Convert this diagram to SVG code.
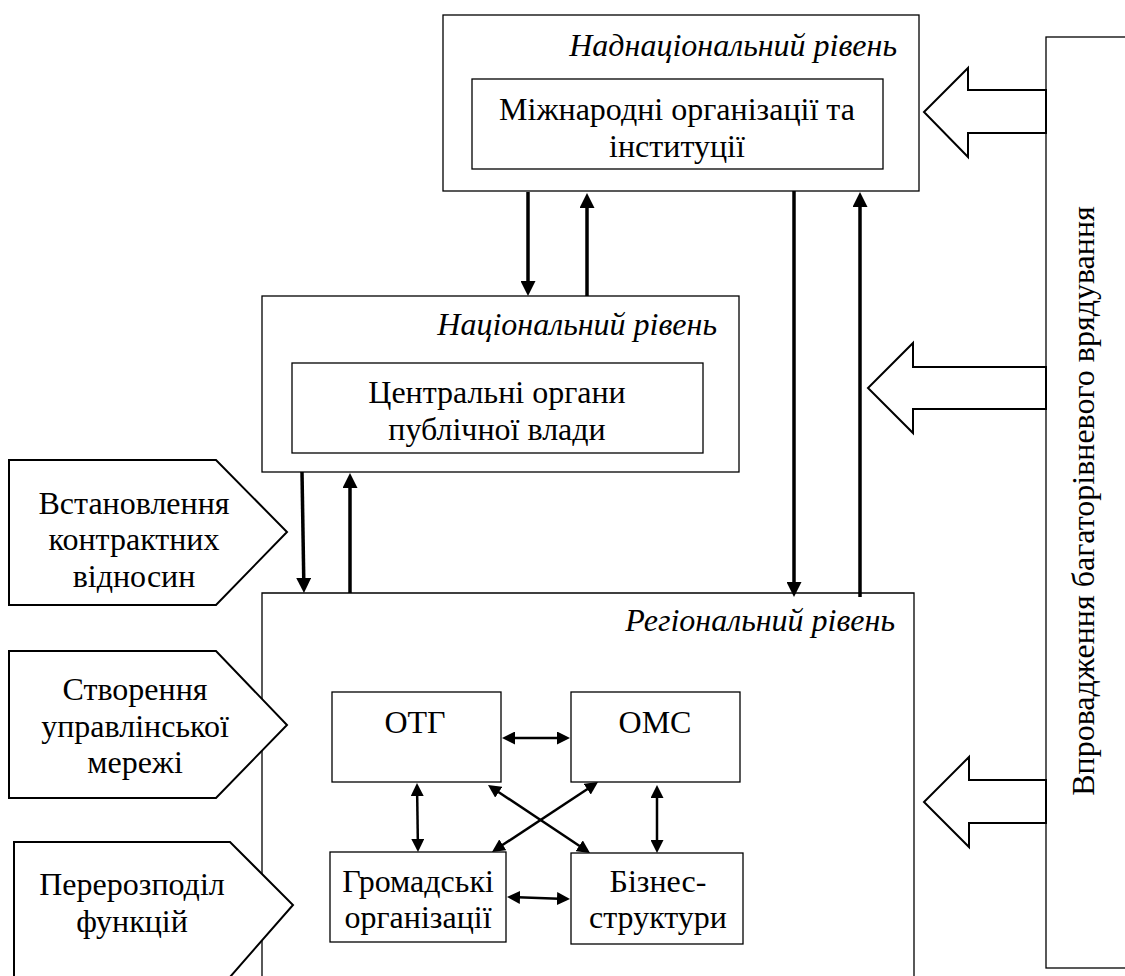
<svg xmlns="http://www.w3.org/2000/svg" width="1125" height="976" viewBox="0 0 1125 976">
<style>
.box{fill:#fff;stroke:#000;stroke-width:1.3}
.blk{fill:#fff;stroke:#000;stroke-width:2;stroke-linejoin:miter}
.t{font-size:32px;fill:#000;text-anchor:middle}
.ti{font-size:32px;font-style:italic;fill:#000;text-anchor:end}
.thick{stroke:#000;stroke-width:3.5;fill:none}
.thin{stroke:#000;stroke-width:2.5;fill:none}
</style>
<defs>
<marker id="ah" viewBox="0 0 15 15" refX="10" refY="7.5" markerWidth="15" markerHeight="15" markerUnits="userSpaceOnUse" orient="auto-start-reverse">
<path d="M0,0 L15,7.5 L0,15 z" fill="#000"/>
</marker>
<marker id="as" viewBox="0 0 13 13" refX="9" refY="6.5" markerWidth="13" markerHeight="13" markerUnits="userSpaceOnUse" orient="auto-start-reverse">
<path d="M0,0 L13,6.5 L0,13 z" fill="#000"/>
</marker>
</defs>
<rect width="1125" height="976" fill="#fff"/>
<g font-family="Liberation Serif, Times New Roman, Times, DejaVu Serif, serif">

<g id="supranational">
<rect class="box" x="443" y="15" width="476" height="176"/>
<text class="ti" x="897" y="56">Наднаціональний рівень</text>
<rect class="box" x="472" y="79" width="411" height="90"/>
<text class="t" x="677" y="120">Міжнародні організації та</text>
<text class="t" x="677" y="157">інституції</text>
</g>

<g id="national">
<rect class="box" x="262" y="296" width="477" height="176"/>
<text class="ti" x="717" y="335">Національний рівень</text>
<rect class="box" x="292" y="363" width="411" height="90"/>
<text class="t" x="497" y="403">Центральні органи</text>
<text class="t" x="497" y="440">публічної влади</text>
</g>

<g id="regional">
<path class="box" d="M262,985 V593 H914 V985"/>
<text class="ti" x="895" y="631">Регіональний рівень</text>
</g>

<g id="otg">
<rect class="box" x="332" y="692" width="169" height="90"/>
<text class="t" x="415" y="733">ОТГ</text>
</g>
<g id="omc">
<rect class="box" x="571" y="692" width="169" height="90"/>
<text class="t" x="655" y="733">ОМС</text>
</g>
<g id="hromadski">
<rect class="box" x="330" y="852" width="176" height="90"/>
<text class="t" x="418" y="892">Громадські</text>
<text class="t" x="418" y="928">організації</text>
</g>
<g id="biznes">
<rect class="box" x="571" y="853" width="172" height="91"/>
<text class="t" x="658" y="892">Бізнес-</text>
<text class="t" x="658" y="928">структури</text>
</g>

<g id="contract">
<polygon class="blk" points="9,460 216,460 287,532 216,605 9,605"/>
<text class="t" x="134" y="514">Встановлення</text>
<text class="t" x="134" y="550">контрактних</text>
<text class="t" x="134" y="587">відносин</text>
</g>
<g id="network">
<polygon class="blk" points="9,651 216,651 287,725 216,798 9,798"/>
<text class="t" x="135" y="700">Створення</text>
<text class="t" x="135" y="737">управлінської</text>
<text class="t" x="135" y="773">мережі</text>
</g>
<g id="redistribution">
<polygon class="blk" points="14,842 230,842 293,905 230,977 14,977"/>
<text class="t" x="132" y="895">Перерозподіл</text>
<text class="t" x="132" y="932">функцій</text>
</g>

<g id="governance">
<rect class="box" x="1046" y="37" width="100" height="931"/>
<text class="t" transform="translate(1094,501) rotate(-90)" x="0" y="0">Впровадження багаторівневого врядування</text>
</g>
</g>

<g id="block-arrows">
<polygon class="blk" points="1046,90 968,90 968,68 924,112 968,157 968,133 1046,133"/>
<polygon class="blk" points="1046,367 913,367 913,343 868,388 913,433 913,409 1046,409"/>
<polygon class="blk" points="1046,780 969,780 969,757 924,802 969,847 969,823 1046,823"/>
</g>

<g id="connectors">
<line class="thick" x1="528" y1="192" x2="528" y2="291" marker-end="url(#ah)"/>
<line class="thick" x1="587" y1="296" x2="587" y2="198" marker-end="url(#ah)"/>
<line class="thick" x1="302" y1="472" x2="303.9" y2="588" marker-end="url(#ah)"/>
<line class="thick" x1="350" y1="593" x2="350" y2="478" marker-end="url(#ah)"/>
<line class="thick" x1="794" y1="191" x2="794" y2="592" marker-end="url(#ah)"/>
<line class="thick" x1="860" y1="597" x2="860" y2="197" marker-end="url(#ah)"/>

<line class="thin" x1="506" y1="738" x2="566" y2="738" marker-start="url(#as)" marker-end="url(#as)"/>
<line class="thin" x1="511" y1="897.1" x2="566" y2="898.9" marker-start="url(#as)" marker-end="url(#as)"/>
<line class="thin" x1="417.06" y1="787" x2="417.94" y2="848" marker-start="url(#as)" marker-end="url(#as)"/>
<line class="thin" x1="657" y1="789" x2="657" y2="849" marker-start="url(#as)" marker-end="url(#as)"/>
<line class="thin" x1="491.3" y1="787.2" x2="586.7" y2="850.8" marker-start="url(#as)" marker-end="url(#as)"/>
<line class="thin" x1="594.7" y1="784.2" x2="495.3" y2="849.8" marker-start="url(#as)" marker-end="url(#as)"/>
</g>
</svg>
